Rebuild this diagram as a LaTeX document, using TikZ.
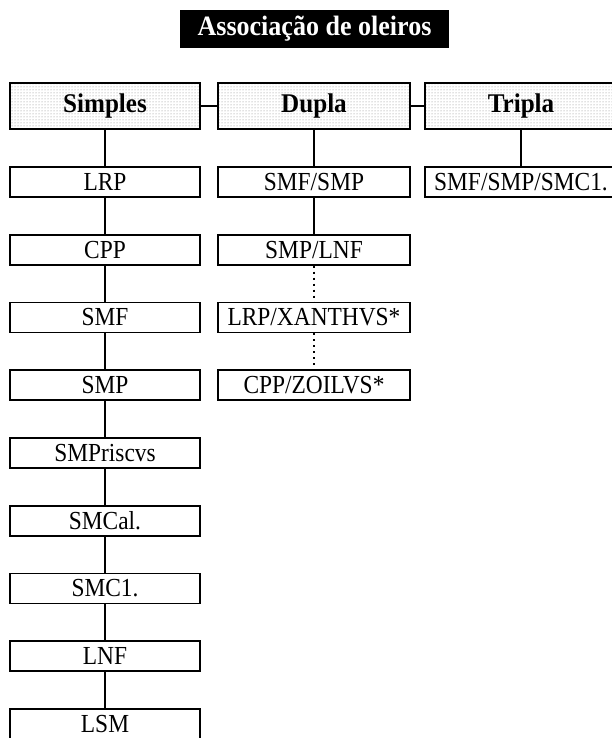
\documentclass[tikz,border=0pt]{standalone}
\usepackage{fontspec}
\setmainfont{Liberation Serif}
\newfontfamily\cellfont[FakeStretch=0.9]{Liberation Serif}
\newfontfamily\hdrfont[FakeStretch=0.93]{Liberation Serif}
\usetikzlibrary{patterns}

\begin{document}
\begin{tikzpicture}[x=1pt, y=-1pt,
    cell/.style={draw, line width=1.6pt, minimum width=190pt, minimum height=30pt, inner sep=0pt, font=\cellfont\fontsize{26}{28}\selectfont},
    hdr/.style={cell, minimum height=46pt, pattern=dots, pattern color=gray, font=\hdrfont\fontsize{27}{29}\selectfont\bfseries},
    link/.style={line width=1.2pt}]
    \useasboundingbox (0,0) rectangle (611,738);

    \node[fill=black, text=white, minimum width=269pt, minimum height=38pt, inner sep=0pt, font=\hdrfont\fontsize{28}{30}\selectfont\bfseries] (title) at (314.5,29) {Associação de oleiros};

    \node[hdr] (s) at (105,106) {Simples};
    \node[hdr, minimum width=192pt] (d) at (314,106) {Dupla};
    \node[hdr, minimum width=192pt] (t) at (521,106) {Tripla};

    \node[cell] (s1) at (105,182) {LRP};
    \node[cell] (s2) at (105,249.75) {CPP};
    \node[cell] (s3) at (105,317.5) {SMF};
    \node[cell] (s4) at (105,385.25) {SMP};
    \node[cell] (s5) at (105,453) {SMPriscvs};
    \node[cell] (s6) at (105,520.75) {SMCal.};
    \node[cell] (s7) at (105,588.5) {SMC1.};
    \node[cell] (s8) at (105,656.25) {LNF};
    \node[cell] (s9) at (105,724) {LSM};

    \node[cell, minimum width=192pt] (d1) at (314,182) {SMF/SMP};
    \node[cell, minimum width=192pt] (d2) at (314,249.75) {SMP/LNF};
    \node[cell, minimum width=192pt] (d3) at (314,317.5) {LRP/XANTHVS*};
    \node[cell, minimum width=192pt] (d4) at (314,385.25) {CPP/ZOILVS*};

    \node[cell, minimum width=192pt] (t1) at (521,182) {SMF/SMP/SMC1.};

    \draw[link]
    (s) -- (d)
    (d) -- (t)
    (s) -- (s1)
    (s1) -- (s2)
    (s2) -- (s3)
    (s3) -- (s4)
    (s4) -- (s5)
    (s5) -- (s6)
    (s6) -- (s7)
    (s7) -- (s8)
    (s8) -- (s9)
    (d) -- (d1)
    (d1) -- (d2)
    (t) -- (t1);
    \draw[link, dash pattern=on 2pt off 4pt]
    (d2) -- (d3)
    (d3) -- (d4);
\end{tikzpicture}
\end{document}
